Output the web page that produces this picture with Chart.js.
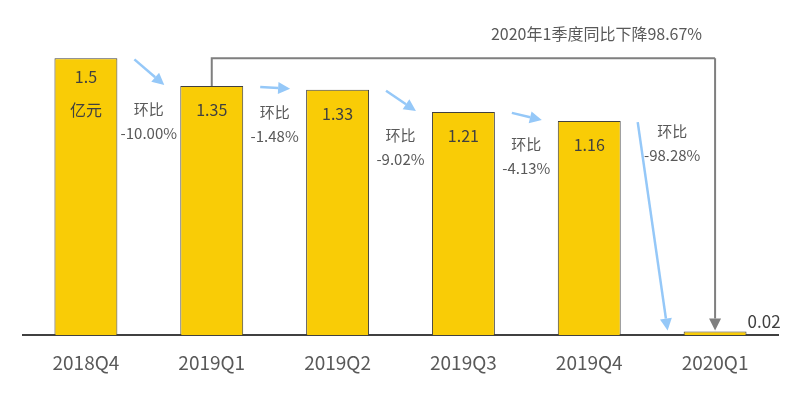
<!DOCTYPE html>
<html lang="zh">
<head>
    <meta charset="UTF-8">
    <title>营收季度变化</title>
    <script src="https://cdn.jsdelivr.net/npm/chart.js@4.4.1/dist/chart.umd.min.js"></script>
    <style>
        html, body { margin: 0; padding: 0; background: #fff; }
        #wrap { width: 801px; height: 393px; }
    </style>
</head>
<body>
<div id="wrap"><canvas id="myChart" width="801" height="393"></canvas></div>
<script>
    var categories = ['2018Q4', '2019Q1', '2019Q2', '2019Q3', '2019Q4', '2020Q1'];
    var revenue = [1.5, 1.35, 1.33, 1.21, 1.16, 0.02];
    var barLabels = ['1.5', '1.35', '1.33', '1.21', '1.16', '0.02'];
    var qoqLabels = ['-10.00%', '-1.48%', '-9.02%', '-4.13%', '-98.28%'];
    var qoqTitle = '环比';
    var unitLabel = '亿元';
    var yoyText = '2020年1季度同比下降98.67%';

    var FONT = "'Noto Sans CJK SC', 'Noto Sans', sans-serif";
    var BLUE = '#95C8F8';
    var GREY = '#7F7F7F';

    function arrow(ctx, x0, y0, x1, y1, color, lw, head) {
        var a = Math.atan2(y1 - y0, x1 - x0);
        var bx = x1 - Math.cos(a) * head, by = y1 - Math.sin(a) * head;
        ctx.strokeStyle = color;
        ctx.fillStyle = color;
        ctx.lineWidth = lw;
        ctx.beginPath();
        ctx.moveTo(x0, y0);
        ctx.lineTo(bx, by);
        ctx.stroke();
        ctx.beginPath();
        ctx.moveTo(x1, y1);
        ctx.lineTo(bx + Math.sin(a) * head / 2, by - Math.cos(a) * head / 2);
        ctx.lineTo(bx - Math.sin(a) * head / 2, by + Math.cos(a) * head / 2);
        ctx.closePath();
        ctx.fill();
    }

    // labels, 环比 arrows and the 同比 bracket
    var annotate = {
        id: 'annotate',
        afterDatasetsDraw: function (chart) {
            var ctx = chart.ctx;
            var bars = chart.getDatasetMeta(0).data;
            ctx.save();
            ctx.textAlign = 'center';
            ctx.textBaseline = 'middle';

            // values on bars
            ctx.fillStyle = '#404040';
            ctx.font = '16px ' + FONT;
            bars.forEach(function (bar, i) {
                if (i === 0) {
                    ctx.fillText(barLabels[i], bar.x, bar.y + 19);
                    ctx.fillText(unitLabel, bar.x, bar.y + 52);
                } else if (i === bars.length - 1) {
                    ctx.textAlign = 'left';
                    ctx.font = '17px ' + FONT;
                    ctx.fillText(barLabels[i], bar.x + bar.width / 2 + 1, bar.y - 10);
                    ctx.textAlign = 'center';
                } else {
                    ctx.fillText(barLabels[i], bar.x, bar.y + 24);
                }
            });

            // 环比 arrows + text
            for (var i = 0; i < bars.length - 1; i++) {
                var l = bars[i], r = bars[i + 1];
                arrow(ctx, l.x + l.width / 2 + 17, l.y + 1, r.x - r.width / 2 - 16, r.y - 1, BLUE, 2.5, 12);
                var gx = (l.x + r.x) / 2, ty = r.y + 23;
                if (i === bars.length - 2) { gx += 20; ty = l.y + 10; }
                ctx.fillStyle = '#595959';
                ctx.font = '15px ' + FONT;
                ctx.fillText(qoqTitle, gx, ty);
                ctx.fillText(qoqLabels[i], gx, ty + 24);
            }

            // 同比 bracket
            var a = bars[1], b = bars[bars.length - 1], top = bars[0].y;
            ctx.strokeStyle = GREY;
            ctx.lineWidth = 2;
            ctx.beginPath();
            ctx.moveTo(a.x, a.y);
            ctx.lineTo(a.x, top);
            ctx.lineTo(b.x, top);
            ctx.stroke();
            arrow(ctx, b.x, top, b.x, b.y - 1, GREY, 2, 12);
            ctx.fillStyle = '#595959';
            ctx.font = '16px ' + FONT;
            ctx.textAlign = 'right';
            ctx.fillText(yoyText, b.x - 13, top - 24);
            ctx.restore();
        }
    };

    var ctx = document.getElementById('myChart').getContext('2d');
    var myChart = new Chart(ctx, {
        type: 'bar',
        data: {
            labels: categories,
            datasets: [{
                data: revenue,
                backgroundColor: '#F9CC06',
                borderColor: '#404040',
                borderWidth: 1,
                barPercentage: 0.5,
                categoryPercentage: 1
            }]
        },
        options: {
            responsive: false,
            animation: false,
            layout: { padding: { left: 23, right: 23, top: 3, bottom: 3 } },
            plugins: {
                legend: { display: false },
                tooltip: { enabled: false }
            },
            scales: {
                x: {
                    grid: { display: false, drawTicks: false },
                    border: { display: true, color: '#404040', width: 2 },
                    ticks: { color: '#595959', padding: 16, font: { size: 19, family: FONT } }
                },
                y: {
                    display: false,
                    min: 0,
                    max: 1.8
                }
            }
        },
        plugins: [annotate]
    });
</script>
</body>
</html>
